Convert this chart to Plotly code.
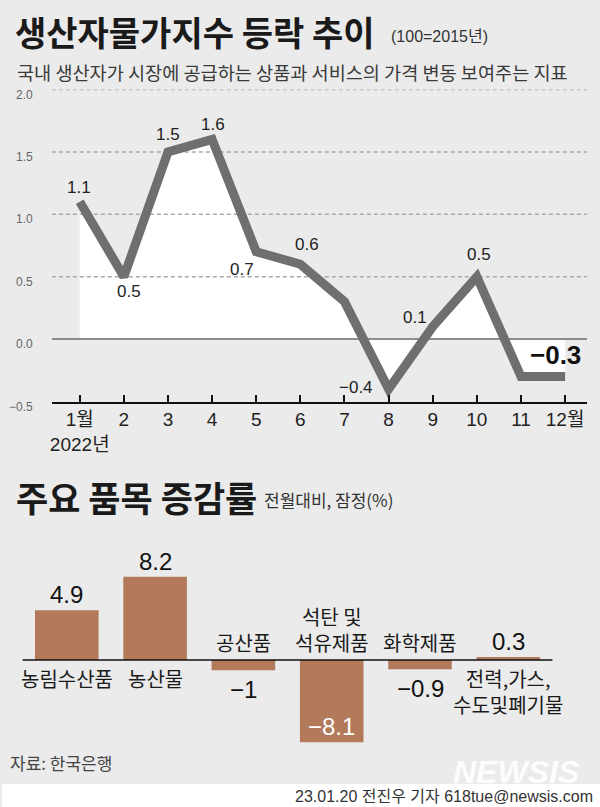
import plotly.graph_objects as go

# ---------------- data ----------------
months = list(range(1, 13))
month_labels = ["1월<br>2022년", "2", "3", "4", "5", "6", "7", "8", "9", "10", "11", "12월"]
ppi_change = [1.1, 0.5, 1.5, 1.6, 0.7, 0.6, 0.3, -0.4, 0.1, 0.5, -0.3, -0.3]
ppi_labeled = [True, True, True, True, True, True, False, True, True, True, False, True]
y_ticks = [-0.5, 0.0, 0.5, 1.0, 1.5, 2.0]

items = ["농림수산품", "농산물", "공산품", "석탄 및<br>석유제품", "화학제품", "전력,가스,<br>수도및폐기물"]
item_change = [4.9, 8.2, -1, -8.1, -0.9, 0.3]

# ---------------- styles ----------------
W, H = 600, 807
BG = "#ebebeb"
LINE_C = "#6f6f6f"
BAR_C = "#b27a5b"
KR = "Noto Sans CJK KR, sans-serif"
NUM = "Liberation Sans Narrow, Liberation Sans, Noto Sans CJK KR, sans-serif"

# label offsets (pixels) for line-chart value labels
label_offsets = [(-1, 14), (5, -15), (0, 17), (1, 15), (-14, -18), (7, 20),
                 (0, 0), (-33, 2), (-18, 9), (2, 22), (0, 0), (-10, 22)]


def px(x):
    return x / W


def py(y):
    return 1 - y / H


def fmt(v):
    s = f"{v:g}"
    if "." not in s and abs(v) != 1:
        s = f"{v:.1f}"
    return s.replace("-", "\u2212")


def fmt1(v):
    return f"{v:.1f}".replace("-", "\u2212")


step = (565 - 78) / 11.0
xr = [1 - 28 / step, 12 + 22 / step]

fig = go.Figure()

# white fill under the line
fig.add_trace(go.Scatter(x=months, y=ppi_change, mode="lines", fill="tozeroy",
                         fillcolor="white", line=dict(width=0, color="white"),
                         hoverinfo="skip", xaxis="x", yaxis="y"))
# dashed grid lines
for t in y_ticks:
    if t > 0:
        fig.add_trace(go.Scatter(x=xr, y=[t, t], mode="lines",
                                 line=dict(color="#a9a9a9", width=1.5, dash="4px,3px"),
                                 hoverinfo="skip", xaxis="x", yaxis="y"))
# zero line
fig.add_trace(go.Scatter(x=xr, y=[0, 0], mode="lines",
                         line=dict(color="#8c8c8c", width=2),
                         hoverinfo="skip", xaxis="x", yaxis="y"))
# main line
fig.add_trace(go.Scatter(x=months, y=ppi_change, mode="lines",
                         line=dict(color=LINE_C, width=9),
                         hoverinfo="skip", xaxis="x", yaxis="y"))

# bars
fig.add_trace(go.Bar(x=list(range(len(items))), y=item_change, width=0.72,
                     marker=dict(color=BAR_C, line=dict(width=0)),
                     hoverinfo="skip", xaxis="x2", yaxis="y2"))

ann = []
# line value labels
for i, (m, v) in enumerate(zip(months, ppi_change)):
    if not ppi_labeled[i]:
        continue
    dx, dy = label_offsets[i]
    big = (i == len(months) - 1)
    ann.append(dict(x=m, y=v, xref="x", yref="y", text=fmt(v), showarrow=False,
                    xshift=dx, yshift=dy, xanchor="center", yanchor="middle",
                    font=dict(family=NUM, size=26 if big else 17,
                              color="#111" if big else "#222",
                              weight="bold" if big else "normal")))
# y tick labels
for t in y_ticks:
    ann.append(dict(x=px(33), y=t, xref="paper", yref="y", text=fmt1(t),
                    showarrow=False, xanchor="right", yanchor="middle", yshift=-5,
                    font=dict(family=NUM, size=12, color="#666")))

# bar labels
for i, (name, v) in enumerate(zip(items, item_change)):
    if v >= 0:
        ann.append(dict(x=i, y=v, xref="x2", yref="y2", text=fmt(v), showarrow=False,
                        xanchor="center", yanchor="bottom", yshift=0,
                        font=dict(family=NUM, size=24, color="#111")))
        ann.append(dict(x=i, y=0, xref="x2", yref="y2", text=name, showarrow=False,
                        xanchor="center", yanchor="top", yshift=-2,
                        font=dict(family=KR, size=20, color="#1a1a1a")))
    else:
        if v < -5:
            ann.append(dict(x=i, y=v, xref="x2", yref="y2", text=fmt(v), showarrow=False,
                            xanchor="center", yanchor="bottom", yshift=0,
                            font=dict(family=NUM, size=24, color="white")))
        else:
            ann.append(dict(x=i, y=v, xref="x2", yref="y2", text=fmt(v), showarrow=False,
                            xanchor="center", yanchor="top", yshift=-4,
                            font=dict(family=NUM, size=24, color="#111")))
        ann.append(dict(x=i, y=0, xref="x2", yref="y2", text=name, showarrow=False,
                        xanchor="center", yanchor="bottom", yshift=1,
                        font=dict(family=KR, size=20, color="#1a1a1a")))

# titles and texts
ann += [
    dict(x=px(11), y=py(32), xref="paper", yref="paper", text="생산자물가지수 등락 추이",
         showarrow=False, xanchor="left", yanchor="middle",
         font=dict(family=KR, size=34, color="#1a1a1a", weight="bold")),
    dict(x=px(388), y=py(37), xref="paper", yref="paper", text="(100=2015년)",
         showarrow=False, xanchor="left", yanchor="middle",
         font=dict(family=NUM, size=16, color="#333")),
    dict(x=px(13), y=py(71), xref="paper", yref="paper",
         text="국내 생산자가 시장에 공급하는 상품과 서비스의 가격 변동 보여주는 지표",
         showarrow=False, xanchor="left", yanchor="middle",
         font=dict(family=KR, size=18.6, color="#3a3a3a")),
    dict(x=px(12), y=py(496), xref="paper", yref="paper", text="주요 품목 증감률",
         showarrow=False, xanchor="left", yanchor="middle",
         font=dict(family=KR, size=35, color="#1a1a1a", weight="bold")),
    dict(x=px(261), y=py(500), xref="paper", yref="paper", text="전월대비, 잠정(%)",
         showarrow=False, xanchor="left", yanchor="middle",
         font=dict(family=KR, size=17, color="#333")),
    dict(x=px(6), y=py(762), xref="paper", yref="paper", text="자료: 한국은행",
         showarrow=False, xanchor="left", yanchor="middle",
         font=dict(family=KR, size=17, color="#444")),
    dict(x=px(582), y=py(772), xref="paper", yref="paper", text="NEWSIS",
         showarrow=False, xanchor="right", yanchor="middle",
         font=dict(family="Liberation Sans, sans-serif", size=32, color="rgba(255,255,255,0.92)",
                   weight="bold", style="italic")),
    dict(x=px(595), y=py(796), xref="paper", yref="paper",
         text="23.01.20 전진우 기자 618tue@newsis.com",
         showarrow=False, xanchor="right", yanchor="middle",
         font=dict(family=NUM, size=16, color="#333")),
]

shapes = [
    # white footer strip
    dict(type="rect", xref="paper", yref="paper", x0=0, x1=1, y0=0, y1=py(784),
         fillcolor="white", line=dict(width=0), layer="below"),
    # bar zero line
    dict(type="line", xref="x2 domain", yref="y2", x0=0, x1=1, y0=0, y1=0,
         line=dict(color="#111", width=1.5), layer="above"),
]

bar_scale = 10.15
fig.update_layout(
    width=W, height=H, margin=dict(l=0, r=0, t=0, b=0),
    paper_bgcolor=BG, plot_bgcolor="rgba(0,0,0,0)", showlegend=False,
    xaxis=dict(domain=[px(50), px(587)], range=xr, tickvals=months, ticktext=month_labels,
               ticks="inside", ticklen=7, tickwidth=1.5, tickcolor="#111",
               showline=True, linecolor="#111", linewidth=1.5, showgrid=False, zeroline=False,
               tickfont=dict(family=NUM, size=19, color="#222"), anchor="y", fixedrange=True),
    yaxis=dict(domain=[py(401.5), py(89.5)], range=[-0.5, 2.0], showgrid=False,
               zeroline=False, showticklabels=False, showline=False, anchor="x", fixedrange=True),
    xaxis2=dict(domain=[px(20.7), px(552.3)], range=[-0.5, 5.5], showgrid=False,
                zeroline=False, showticklabels=False, showline=False, anchor="y2", fixedrange=True),
    yaxis2=dict(domain=[py(745), py(560)], range=[-(745 - 660) / bar_scale, (660 - 560) / bar_scale],
                showgrid=False, zeroline=False, showticklabels=False, showline=False, anchor="x2",
                fixedrange=True),
    annotations=ann, shapes=shapes,
)

fig.write_html("out.html", config={"displayModeBar": False},
               post_script="document.body.style.margin='0';document.body.style.overflow='hidden';")
